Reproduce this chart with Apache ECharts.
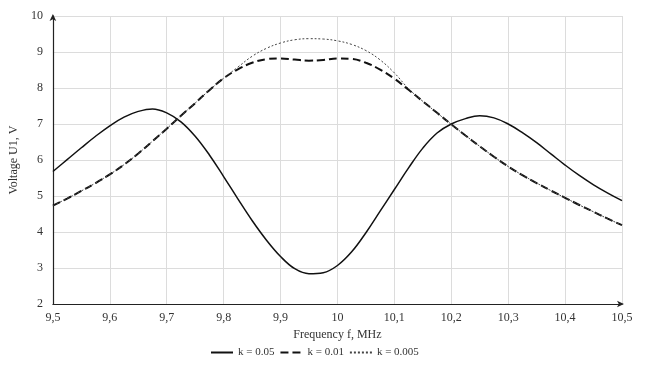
<!DOCTYPE html>
<html>
<head>
<meta charset="utf-8">
<script src="https://cdn.jsdelivr.net/npm/echarts@6/dist/echarts.min.js"></script>
<style>
  html, body { margin: 0; padding: 0; background: #fff; }
  #chart { width: 647px; height: 366px; }
</style>
</head>
<body>
<div id="chart"></div>
<script>
// frequency, MHz
const freq = [
  9.5, 9.525, 9.55, 9.575, 9.6, 9.625, 9.65, 9.675, 9.7, 9.725,
  9.75, 9.775, 9.8, 9.825, 9.85, 9.875, 9.9, 9.925, 9.95, 9.975,
  10.0, 10.025, 10.05, 10.075, 10.1, 10.125, 10.15, 10.175, 10.2, 10.225,
  10.25, 10.275, 10.3, 10.325, 10.35, 10.375, 10.4, 10.425, 10.45, 10.475, 10.5
];
// k = 0.05
const u005 = [
  5.68, 6.01, 6.34, 6.66, 6.95, 7.19, 7.35, 7.42, 7.31, 7.06,
  6.66, 6.14, 5.54, 4.92, 4.32, 3.78, 3.32, 2.98, 2.84, 2.87,
  3.07, 3.45, 3.98, 4.58, 5.18, 5.78, 6.33, 6.75, 7.0, 7.15,
  7.23, 7.17, 7.0, 6.76, 6.48, 6.17, 5.86, 5.57, 5.31, 5.08, 4.87
];
// k = 0.01
const u001 = [
  4.73, 4.93, 5.14, 5.36, 5.6, 5.87, 6.18, 6.52, 6.87, 7.23,
  7.58, 7.94, 8.27, 8.52, 8.7, 8.8, 8.82, 8.79, 8.76, 8.78,
  8.82, 8.81, 8.7, 8.51, 8.26, 7.95, 7.63, 7.31, 6.99, 6.68,
  6.38, 6.09, 5.82, 5.58, 5.36, 5.15, 4.95, 4.75, 4.56, 4.37, 4.19
];
// k = 0.005
const u0005 = [
  4.73, 4.93, 5.14, 5.36, 5.6, 5.87, 6.18, 6.52, 6.87, 7.23,
  7.58, 7.94, 8.27, 8.58, 8.88, 9.1, 9.25, 9.34, 9.37, 9.36,
  9.31, 9.21, 9.04, 8.78, 8.42, 7.98, 7.63, 7.31, 6.99, 6.68,
  6.38, 6.09, 5.82, 5.58, 5.36, 5.15, 4.95, 4.75, 4.56, 4.37, 4.19
];
const seriesNames = ['k = 0.05', 'k = 0.01', 'k = 0.005'];

const font = 'Liberation Serif';
const pair = (ys) => freq.map((f, i) => [f, ys[i]]);
const comma = (v) => String(+(+v).toFixed(1)).replace('.', ',');

const chart = echarts.init(document.getElementById('chart'), null, { renderer: 'canvas' });
chart.setOption({
  animation: false,
  backgroundColor: '#fff',
  textStyle: { fontFamily: font },
  grid: { left: 47, right: 25, top: 16, bottom: 62, containLabel: false },
  xAxis: {
    type: 'value',
    min: 9.5,
    max: 10.5,
    interval: 0.1,
    name: 'Frequency f, MHz',
    nameLocation: 'middle',
    nameGap: 23,
    nameTextStyle: { color: '#333', fontSize: 12, fontFamily: font },
    axisLine: { show: true, symbol: ['none', 'arrow'], symbolSize: [5, 7], symbolOffset: [0, 2], lineStyle: { color: '#222', width: 1.2 } },
    axisTick: { show: false },
    axisLabel: { color: '#333', fontSize: 12, fontFamily: font, margin: 8, formatter: comma },
    splitLine: { show: true, lineStyle: { color: '#dcdcdc', width: 1 } }
  },
  yAxis: {
    type: 'value',
    min: 2,
    max: 10,
    interval: 1,
    name: 'Voltage U1, V',
    nameLocation: 'middle',
    nameGap: 30,
    nameTextStyle: { color: '#333', fontSize: 12, fontFamily: font },
    axisLine: { show: true, symbol: ['none', 'arrow'], symbolSize: [5, 7], symbolOffset: [0, 2], lineStyle: { color: '#222', width: 1.2 } },
    axisTick: { show: false },
    axisLabel: { color: '#333', fontSize: 12, fontFamily: font, margin: 10 },
    splitLine: { show: true, lineStyle: { color: '#dcdcdc', width: 1 } }
  },
  legend: {
    bottom: 3,
    left: 205,
    itemWidth: 22,
    itemHeight: 10,
    itemGap: 5,
    itemStyle: { opacity: 0 },
    textStyle: { color: '#333', fontSize: 11, fontFamily: font },
    data: seriesNames
  },
  series: [
    {
      name: seriesNames[0],
      type: 'line',
      data: pair(u005),
      smooth: 0.4,
      symbol: 'none',
      lineStyle: { color: '#111', width: 1.5, type: 'solid' },
      itemStyle: { color: '#111' }
    },
    {
      name: seriesNames[1],
      type: 'line',
      data: pair(u001),
      smooth: 0.4,
      symbol: 'none',
      lineStyle: { color: '#111', width: 2, type: [8, 4] },
      itemStyle: { color: '#111' }
    },
    {
      name: seriesNames[2],
      type: 'line',
      data: pair(u0005),
      smooth: 0.4,
      symbol: 'none',
      lineStyle: { color: '#444', width: 1, type: [2, 2] },
      itemStyle: { color: '#444' }
    }
  ]
});
</script>
</body>
</html>
